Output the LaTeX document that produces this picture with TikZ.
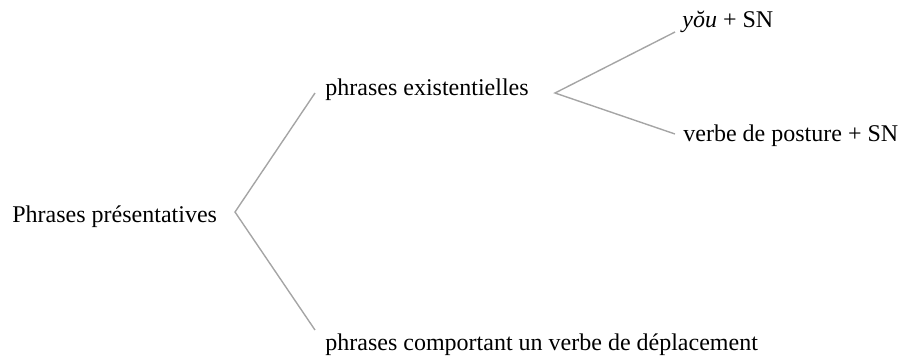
\documentclass[tikz,border=0pt]{standalone}
\usepackage{fontspec}
\setmainfont{Liberation Serif}
\definecolor{branchgray}{RGB}{165,165,165}
\begin{document}
\begin{tikzpicture}[
    x=0.5pt, y=-0.5pt,
    every node/.style={anchor=base west, inner sep=0pt, font=\fontsize{12}{14}\selectfont},
    branch/.style={draw=branchgray, line width=0.7pt}]

\useasboundingbox (0,0) rectangle (910,355);

% root
\node (root) at (12,222) {Phrases présentatives};
\coordinate (forkroot) at (235,212);
% first level
\node (exist) at (325,95) {phrases existentielles};
\node (depl) at (325,350) {phrases comportant un verbe de déplacement};
\coordinate (forkexist) at (555,93);
% second level, under "phrases existentielles"
\node (you) at (682,27) {\textit{yŏu} + SN};
\node (posture) at (683,141) {verbe de posture + SN};

% branches
\draw[branch] ([xshift=-5pt,yshift=1pt]exist.base west) -- (forkroot)
    -- ([xshift=-5pt,yshift=10pt]depl.base west);
\draw[branch] ([xshift=-3.5pt,yshift=-2.5pt]you.base west) -- (forkexist)
    -- ([xshift=-4pt,yshift=3.5pt]posture.base west);
\end{tikzpicture}
\end{document}
